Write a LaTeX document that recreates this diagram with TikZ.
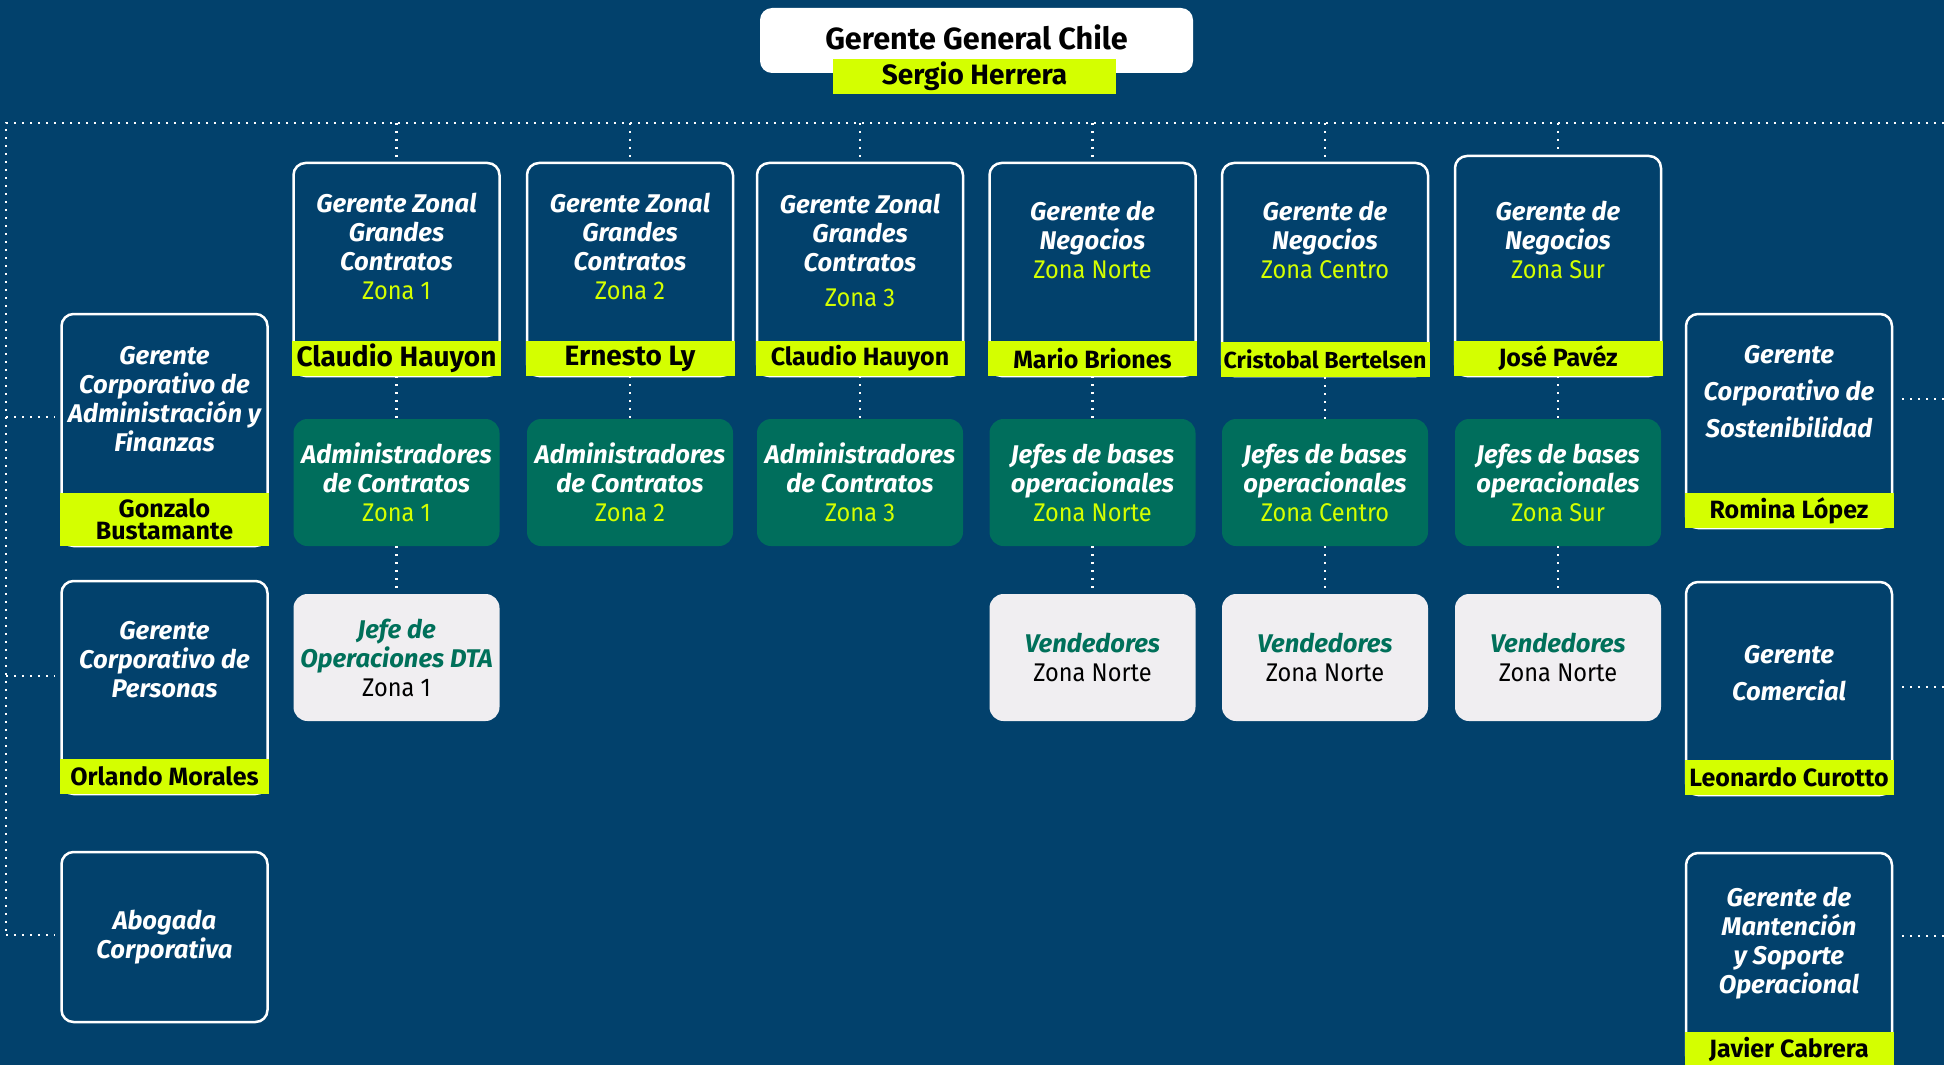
\documentclass[tikz,border=0pt]{standalone}
\usepackage{fontspec}
\setmainfont{Fira Sans}
\newfontfamily\narrowfont{Fira Sans}[FakeStretch=0.92]
\usetikzlibrary{calc}
\definecolor{navy}{RGB}{2,65,108}
\definecolor{grn}{RGB}{0,110,92}
\definecolor{lime}{RGB}{212,255,0}
\definecolor{lightbox}{RGB}{240,238,241}
\definecolor{txtgrn}{RGB}{0,112,90}
\tikzset{
  mgrbox/.style={draw=white, line width=1.25pt, fill=navy, rounded corners=6pt, minimum width=103pt, inner sep=0pt},
  namebar/.style={fill=lime, minimum width=104.5pt, minimum height=17.5pt, inner sep=0pt, text=black, font=\fontsize{12.5}{13}\selectfont\bfseries},
  grnbox/.style={fill=grn, rounded corners=7pt, minimum width=103pt, minimum height=63.5pt, inner sep=0pt, align=center, text=white, font=\fontsize{12.8}{14.5}\selectfont},
  lgtbox/.style={fill=lightbox, rounded corners=7pt, minimum width=103pt, minimum height=63.5pt, inner sep=0pt, align=center, text=black, font=\fontsize{12.8}{14.5}\selectfont},
  ttl/.style={text=white, align=center, inner sep=0pt, font=\fontsize{12.8}{14.5}\selectfont},
  link/.style={white, line width=1.1pt, dash pattern=on 1pt off 3pt}
}
\newcommand{\bi}[1]{{\bfseries\itshape #1}}
\newcommand{\zn}[1]{\textcolor{lime}{\narrowfont #1}}
\newcommand{\nz}[1]{{\narrowfont #1}}
\newcommand{\gi}[1]{\textcolor{txtgrn}{\bfseries\itshape #1}}
\begin{document}
\begin{tikzpicture}[x=0.5pt,y=-0.5pt]
\useasboundingbox (0,0) rectangle (1944,1065);
\fill[navy] (0,0) rectangle (1944,1065);

% header
\node[fill=white, rounded corners=6pt, minimum width=216.5pt, minimum height=32.5pt, inner sep=0pt] (hd) at (976.5,40.5) {};
\node[inner sep=0pt, font=\fontsize{15.3}{16}\selectfont\bfseries] (hdt) at (976.5,37) {Gerente General Chile};
\node[namebar, minimum width=141.5pt, font=\fontsize{14}{15}\selectfont\bfseries] (hdn) at (974.5,76.5) {Sergio Herrera};

% top row boxes
\node[mgrbox, minimum height=106.5pt] (b1) at (396.5,269.5) {};
\node[mgrbox, minimum height=106.5pt] (b2) at (630,269.5) {};
\node[mgrbox, minimum height=106.5pt] (b3) at (860,269.5) {};
\node[mgrbox, minimum height=106.5pt] (b4) at (1092.5,269.5) {};
\node[mgrbox, minimum height=106.5pt] (b5) at (1325,269.5) {};
\node[mgrbox, minimum height=110pt] (b6) at (1558,266) {};

\node[ttl] (b1t) at (396.5,246) {\bi{Gerente Zonal}\\\bi{Grandes}\\\bi{Contratos}\\\zn{Zona 1}};
\node[ttl] (b2t) at (630,246) {\bi{Gerente Zonal}\\\bi{Grandes}\\\bi{Contratos}\\\zn{Zona 2}};
\node[ttl] (b3t) at (860,250) {\bi{Gerente Zonal}\\\bi{Grandes}\\\bi{Contratos}\\[3pt]\zn{Zona 3}};
\node[ttl] (b4t) at (1092.5,240) {\bi{Gerente de}\\\bi{Negocios}\\\zn{Zona Norte}};
\node[ttl] (b5t) at (1325,240) {\bi{Gerente de}\\\bi{Negocios}\\\zn{Zona Centro}};
\node[ttl] (b6t) at (1558,240) {\bi{Gerente de}\\\bi{Negocios}\\\zn{Zona Sur}};

\node[namebar, font=\fontsize{14}{15}\selectfont\bfseries] (b1n) at (396.5,358.5) {Claudio Hauyon};
\node[namebar, font=\fontsize{14}{15}\selectfont\bfseries] (b2n) at (630,358.5) {Ernesto Ly};
\node[namebar] (b3n) at (860,358.5) {Claudio Hauyon};
\node[namebar] (b4n) at (1092.5,358.5) {Mario Briones};
\node[namebar, font=\fontsize{11.6}{13}\selectfont\bfseries] (b5n) at (1325,359.5) {Cristobal Bertelsen};
\node[namebar] (b6n) at (1558,358.5) {José Pavéz};

% green boxes
\node[grnbox] (g1) at (396.5,482.5) {\bi{Administradores}\\\bi{de Contratos}\\\zn{Zona 1}};
\node[grnbox] (g2) at (630,482.5) {\bi{Administradores}\\\bi{de Contratos}\\\zn{Zona 2}};
\node[grnbox] (g3) at (860,482.5) {\bi{Administradores}\\\bi{de Contratos}\\\zn{Zona 3}};
\node[grnbox] (g4) at (1092.5,482.5) {\bi{Jefes de bases}\\\bi{operacionales}\\\zn{Zona Norte}};
\node[grnbox] (g5) at (1325,482.5) {\bi{Jefes de bases}\\\bi{operacionales}\\\zn{Zona Centro}};
\node[grnbox] (g6) at (1558,482.5) {\bi{Jefes de bases}\\\bi{operacionales}\\\zn{Zona Sur}};

% light boxes
\node[lgtbox] (j1) at (396.5,657.5) {\gi{Jefe de}\\\gi{Operaciones DTA}\\\nz{Zona 1}};
\node[lgtbox] (v4) at (1092.5,657.5) {\gi{Vendedores}\\\nz{Zona Norte}};
\node[lgtbox] (v5) at (1325,657.5) {\gi{Vendedores}\\\nz{Zona Norte}};
\node[lgtbox] (v6) at (1558,657.5) {\gi{Vendedores}\\\nz{Zona Norte}};

% left column
\node[mgrbox, minimum height=116pt] (l1) at (164.5,430) {};
\node[ttl] (l1t) at (164.5,399) {\bi{Gerente}\\\bi{Corporativo de}\\\bi{Administración y}\\\bi{Finanzas}};
\node[namebar, minimum height=26.5pt, align=center, font=\fontsize{12.5}{11}\selectfont\bfseries] (l1n) at (164.5,519.5) {Gonzalo\\Bustamante};
\node[mgrbox, minimum height=106.5pt] (l2) at (164.5,687.5) {};
\node[ttl] (l2t) at (164.5,660) {\bi{Gerente}\\\bi{Corporativo de}\\\bi{Personas}};
\node[namebar] (l2n) at (164.5,776.5) {Orlando Morales};
\node[mgrbox, minimum height=85pt, ttl] (l3) at (164.5,937) {\bi{Abogada}\\\bi{Corporativa}};

% right column
\node[mgrbox, minimum height=107pt] (r1) at (1789,421) {};
\node[ttl, font=\fontsize{12.8}{18.5}\selectfont] (r1t) at (1789,391.5) {\bi{Gerente}\\\bi{Corporativo de}\\\bi{Sostenibilidad}};
\node[namebar] (r1n) at (1789,510.5) {Romina López};
\node[mgrbox, minimum height=106.5pt] (r2) at (1789,688.5) {};
\node[ttl, font=\fontsize{12.8}{18.5}\selectfont] (r2t) at (1789,673.5) {\bi{Gerente}\\\bi{Comercial}};
\node[namebar] (r2n) at (1789,777.5) {Leonardo Curotto};
\node[mgrbox, minimum height=107pt] (r3) at (1789,960) {};
\node[ttl] (r3t) at (1789,943.5) {\bi{Gerente de}\\\bi{Mantención}\\\bi{y Soporte}\\\bi{Operacional}};
\node[namebar] (r3n) at (1789,1049.5) {Javier Cabrera};

% connectors
\coordinate (tl) at (6,123);
\coordinate (tr) at (1944,123);
\coordinate (bl) at (6,935);
\draw[link] (tr) -- (tl) -- (bl);
\foreach \b in {b1,b2,b3,b4,b5,b6}{
  \draw[link] (\b.north |- tl) -- (\b.north);
}
\foreach \a/\c in {b1n/g1,b2n/g2,b3n/g3,b4n/g4,b5n/g5,b6n/g6,g1/j1,g4/v4,g5/v5,g6/v6}{
  \draw[link] (\a.south) -- (\c.north);
}
\coordinate (ls1) at (6,417);
\coordinate (ls2) at (6,676);
\coordinate (ls3) at (6,935);
\draw[link] (ls1) -- ($(ls1 -| l1.west)+(-6,0)$);
\draw[link] (ls2) -- ($(ls2 -| l2.west)+(-6,0)$);
\draw[link] (ls3) -- ($(ls3 -| l3.west)+(-6,0)$);
\coordinate (rs1) at (1944,399);
\coordinate (rs2) at (1944,687);
\coordinate (rs3) at (1944,936);
\draw[link] (rs1) -- ($(rs1 -| r1.east)+(6,0)$);
\draw[link] (rs2) -- ($(rs2 -| r2.east)+(6,0)$);
\draw[link] (rs3) -- ($(rs3 -| r3.east)+(6,0)$);
\end{tikzpicture}
\end{document}
